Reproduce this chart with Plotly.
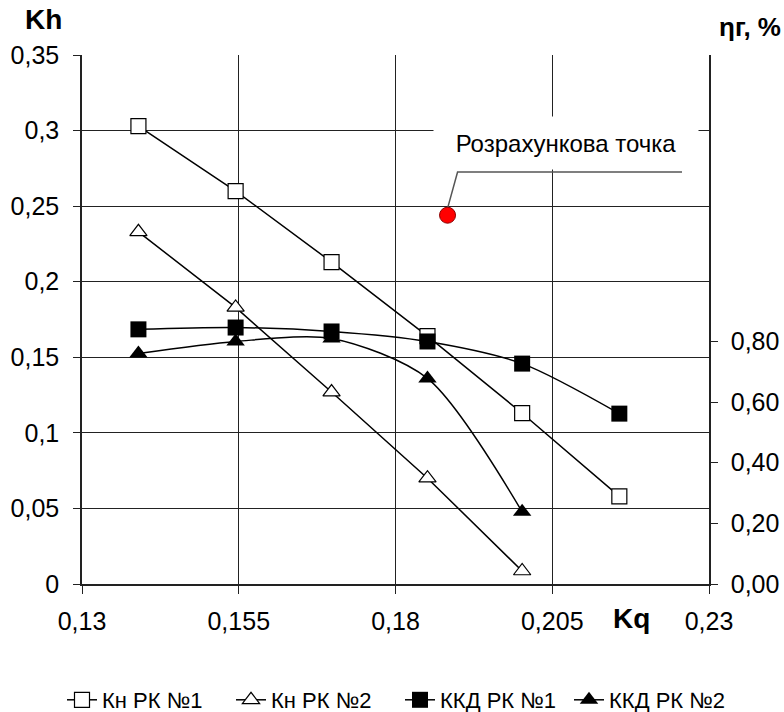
import plotly.graph_objects as go

# ---- data ----
kq = [0.139, 0.1545, 0.1698, 0.1851, 0.2002, 0.2157]
kn_rk1 = [0.303, 0.260, 0.213, 0.164, 0.113, 0.058]
kn_rk2 = [0.233, 0.183, 0.127, 0.070, 0.0086]
kkd_rk1 = [0.840, 0.846, 0.833, 0.800, 0.727, 0.562]
kkd_rk2 = [0.760, 0.800, 0.810, 0.678, 0.238]

calc_x = [0.1883]
calc_y = [0.244]
leader_x = [0.1883, 0.1899, 0.2257]
leader_y = [0.2485, 0.2726, 0.2726]

x_ticks = [0.13, 0.155, 0.18, 0.205, 0.23]
x_labels = ["0,13", "0,155", "0,18", "0,205", "0,23"]
y_ticks = [0, 0.05, 0.1, 0.15, 0.2, 0.25, 0.3, 0.35]
y_labels = ["0", "0,05", "0,1", "0,15", "0,2", "0,25", "0,3", "0,35"]
y2_ticks = [0, 0.2, 0.4, 0.6, 0.8]
y2_labels = ["0,00", "0,20", "0,40", "0,60", "0,80"]

FONT = "Liberation Sans, Arial, sans-serif"

L, R, T, B = 82, 75, 55, 128
PW, PH = 784 - L - R, 712 - T - B


def px(xp):
    return (xp - L) / PW


def py(yp):
    return (712 - B - yp) / PH


fig = go.Figure()

fig.add_trace(go.Scatter(
    x=kq, y=kn_rk1, name="Кн РК №1", mode="lines+markers",
    line=dict(color="black", width=1.5),
    marker=dict(symbol="square", size=15, color="white", line=dict(color="black", width=1.2)),
))
fig.add_trace(go.Scatter(
    x=kq[:5], y=kn_rk2, name="Кн РК №2", mode="lines+markers",
    line=dict(color="black", width=1.5),
    marker=dict(symbol="triangle-up", size=15, color="white", line=dict(color="black", width=1.2)),
))
fig.add_trace(go.Scatter(
    x=kq, y=kkd_rk1, name="ККД РК №1", mode="lines+markers", yaxis="y2",
    line=dict(color="black", width=1.5, shape="spline", smoothing=0.8),
    marker=dict(symbol="square", size=16, color="black"),
))
fig.add_trace(go.Scatter(
    x=kq[:5], y=kkd_rk2, name="ККД РК №2", mode="lines+markers", yaxis="y2",
    line=dict(color="black", width=1.5, shape="spline", smoothing=0.8),
    marker=dict(symbol="triangle-up", size=16, color="black"),
))
fig.add_trace(go.Scatter(
    x=leader_x, y=leader_y, mode="lines", showlegend=False, hoverinfo="skip",
    line=dict(color="#555555", width=1.5),
))
fig.add_trace(go.Scatter(
    x=calc_x, y=calc_y, mode="markers", showlegend=False,
    marker=dict(symbol="circle", size=16, color="#ff0000", line=dict(color="#8b0000", width=1)),
))

fig.update_layout(
    width=784, height=712,
    margin=dict(l=L, r=R, t=T, b=B, autoexpand=False),
    paper_bgcolor="white", plot_bgcolor="white",
    font=dict(family=FONT, size=25, color="black"),
    xaxis=dict(
        range=[0.13, 0.23], tickvals=x_ticks, ticktext=x_labels,
        showgrid=True, gridcolor="#222222", gridwidth=1,
        showline=True, linecolor="#222222", linewidth=1.5,
        ticks="outside", ticklen=8, tickcolor="#222222",
        ticklabelstandoff=6, zeroline=False,
    ),
    yaxis=dict(
        range=[0, 0.35], tickvals=y_ticks, ticktext=y_labels,
        showgrid=True, gridcolor="#222222", gridwidth=1,
        showline=True, linecolor="#222222", linewidth=1.5,
        ticks="outside", ticklen=7, tickcolor="#222222",
        ticklabelstandoff=9, zeroline=False,
    ),
    yaxis2=dict(
        range=[0, 1.745], tickvals=y2_ticks, ticktext=y2_labels,
        overlaying="y", side="right", showgrid=False,
        showline=True, linecolor="#222222", linewidth=1.5,
        ticks="outside", ticklen=7, tickcolor="#222222",
        ticklabelstandoff=8, zeroline=False,
    ),
    legend=dict(
        orientation="h", x=px(62), xanchor="left", y=py(700), yanchor="middle",
        font=dict(family=FONT, size=22), itemwidth=30, entrywidth=124,
    ),
    showlegend=True,
)

fig.add_annotation(
    x=0.2072, y=0.2918, xref="x", yref="y", text="Розрахункова точка",
    showarrow=False, bgcolor="white", width=262, height=50,
    font=dict(family=FONT, size=24, color="black"),
)
fig.add_annotation(
    xref="paper", yref="paper", x=px(43), y=py(19), xanchor="center", yanchor="middle",
    text="<b>Kh</b>", showarrow=False, font=dict(family=FONT, size=28),
)
fig.add_annotation(
    xref="paper", yref="paper", x=px(750), y=py(27), xanchor="center", yanchor="middle",
    text="<b>ηг, %</b>", showarrow=False, font=dict(family=FONT, size=26),
)
fig.add_annotation(
    xref="paper", yref="paper", x=px(631), y=py(618), xanchor="center", yanchor="middle",
    text="<b>Kq</b>", showarrow=False, font=dict(family=FONT, size=28),
)

fig.write_html("out.html")
